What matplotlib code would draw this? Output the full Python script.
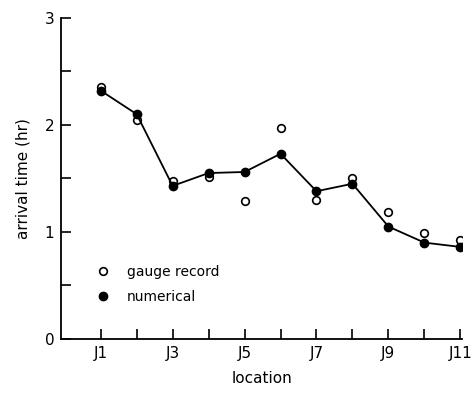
import matplotlib
matplotlib.use('Agg')
import matplotlib.pyplot as plt

locations = ['J1', 'J2', 'J3', 'J4', 'J5', 'J6', 'J7', 'J8', 'J9', 'J10', 'J11']
gauge = [2.35, 2.05, 1.48, 1.51, 1.29, 1.97, 1.30, 1.50, 1.19, 0.99, 0.92]
numerical = [2.32, 2.10, 1.43, 1.55, 1.56, 1.73, 1.38, 1.45, 1.05, 0.90, 0.86]
xtick_labels = ['J1', '', 'J3', '', 'J5', '', 'J7', '', 'J9', '', 'J11']

x = list(range(1, len(locations) + 1))

fig = plt.figure(figsize=(4.74, 3.96), dpi=100)
ax = fig.add_axes([0.129, 0.144, 0.846, 0.811])

ax.plot(x, numerical, '-', color='black', lw=1.3, marker='o', ms=6,
        mfc='black', mec='black', label='numerical', zorder=3)
ax.plot(x, gauge, 'o', ms=5.5, mfc='white', mec='black', mew=1.2,
        label='gauge record', zorder=2)

ax.set_xlim(-0.1, 11.05)
ax.set_ylim(0, 3)
ax.set_xticks(x)
ax.set_xticklabels(xtick_labels)
ax.set_yticks([0, 1, 2, 3])
ax.set_yticks([0.5, 1.5, 2.5], minor=True)
ax.tick_params(axis='both', direction='in', length=7, width=1.2, labelsize=11, pad=5)
ax.tick_params(axis='y', which='minor', direction='in', length=7, width=1.2)
ax.tick_params(axis='x', pad=5)
ax.spines['top'].set_visible(False)
ax.spines['right'].set_visible(False)
ax.spines['left'].set_linewidth(1.3)
ax.spines['bottom'].set_linewidth(1.3)

ax.set_xlabel('location', fontsize=11, labelpad=7)
ax.set_ylabel('arrival time (hr)', fontsize=11, labelpad=10)

handles, labels = ax.get_legend_handles_labels()
leg = ax.legend(handles[::-1], labels[::-1], loc='lower left',
                bbox_to_anchor=(0.06, 0.07), frameon=False, fontsize=10,
                handlelength=0.8, handletextpad=1.3, labelspacing=0.8)
for h in leg.legend_handles:
    h.set_linestyle('None')

fig.savefig('out.png', dpi=100)
